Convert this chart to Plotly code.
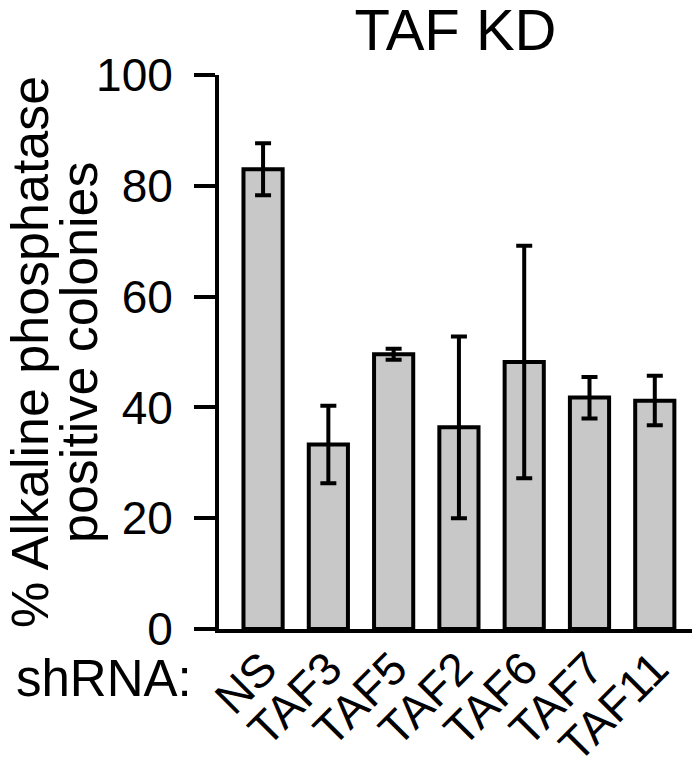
import plotly.graph_objects as go

categories = ["NS", "TAF3", "TAF5", "TAF2", "TAF6", "TAF7", "TAF11"]
means = [83.0, 33.3, 49.6, 36.4, 48.2, 41.8, 41.2]
err_plus = [4.7, 7.0, 1.0, 16.4, 21.0, 3.7, 4.5]
err_minus = [4.7, 7.0, 1.0, 16.4, 21.0, 3.8, 4.4]
yticks = [0, 20, 40, 60, 80, 100]

FONT = "Liberation Sans, Arial, sans-serif"

fig = go.Figure(
    go.Bar(
        x=list(range(len(categories))),
        y=means,
        width=0.6,
        marker=dict(color="#c8c8c8", line=dict(color="black", width=4)),
        error_y=dict(type="data", symmetric=False, array=err_plus, arrayminus=err_minus,
                     color="black", thickness=4, width=8),
    )
)

fig.update_layout(
    width=697, height=771,
    margin=dict(l=219, r=5, t=75, b=142, autoexpand=False),
    plot_bgcolor="white", paper_bgcolor="white",
    showlegend=False,
    font=dict(family=FONT, color="black", size=46),
    title=dict(text="TAF KD", x=0.5, xref="paper", xanchor="center",
               y=0.962, yref="container", yanchor="middle",
               font=dict(size=58, family=FONT, color="black")),
)

fig.update_xaxes(
    range=[-0.675, 6.57], automargin=False,
    tickmode="array", tickvals=list(range(len(categories))), ticktext=categories,
    tickangle=-45, ticks="", showline=True, linecolor="black", linewidth=4,
    showgrid=False, zeroline=False, tickfont=dict(size=46, family=FONT),
    ticklabelstandoff=-10,
)
fig.update_yaxes(
    range=[0, 100], tickmode="array", tickvals=yticks, automargin=False,
    ticks="outside", ticklen=21, tickwidth=4, tickcolor="black",
    showline=True, linecolor="black", linewidth=4, showgrid=False, zeroline=False,
    ticklabelstandoff=12, tickfont=dict(size=46, family=FONT),
)

PLOT_L, PLOT_W = 219, 473
for txt, cx in [("% Alkaline phosphatase", 30), ("positive colonies", 79)]:
    fig.add_annotation(
        text=txt, x=(cx - PLOT_L) / PLOT_W, y=0.5, xref="paper", yref="paper",
        xanchor="center", yanchor="middle", textangle=-90, showarrow=False,
        font=dict(size=52, family=FONT, color="black"),
    )
fig.add_annotation(
    text="shRNA:", x=(104 - PLOT_L) / PLOT_W, y=-0.09, xref="paper", yref="paper",
    xanchor="center", yanchor="middle",
    showarrow=False, font=dict(size=51, family=FONT, color="black"),
)

fig.write_html("out.html", config={"displayModeBar": False},
               post_script="document.body.style.margin='0';")
